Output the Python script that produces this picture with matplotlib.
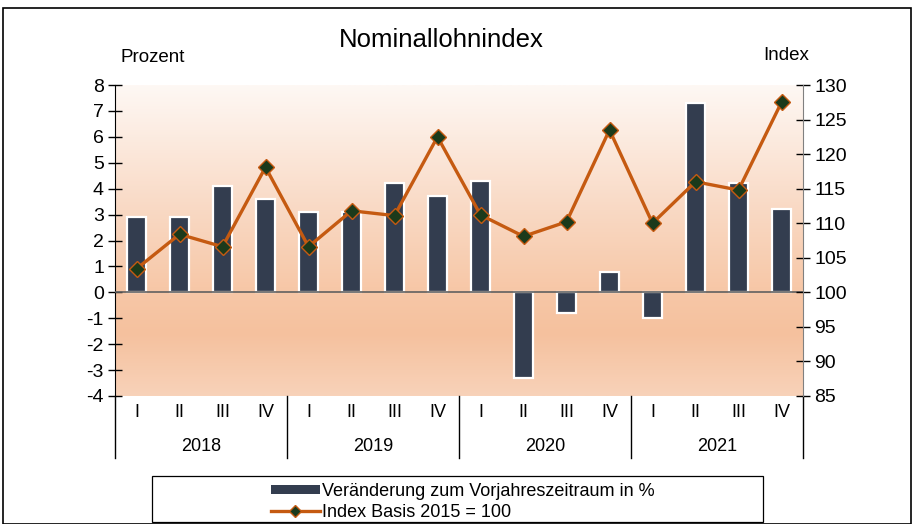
import numpy as np
import matplotlib
matplotlib.use("Agg")
import matplotlib.pyplot as plt
from matplotlib.colors import LinearSegmentedColormap
from matplotlib.lines import Line2D
from matplotlib.patches import Patch, Rectangle

plt.rcParams['font.family'] = ['Liberation Sans', 'DejaVu Sans']
plt.rcParams['axes.unicode_minus'] = False

# data
years = ["2018", "2019", "2020", "2021"]
quarters = ["I", "II", "III", "IV"]
change_pct = [2.9, 2.9, 4.1, 3.6,
              3.1, 3.1, 4.2, 3.7,
              4.3, -3.3, -0.8, 0.8,
              -1.0, 7.3, 4.2, 3.2]
index_vals = [103.4, 108.4, 106.6, 118.1,
              106.6, 111.8, 111.1, 122.5,
              111.2, 108.1, 110.2, 123.5,
              110.0, 116.0, 114.8, 127.5]

bar_color = "#333d4f"
line_color = "#c55a11"
marker_face = "#1b3a1b"

fig = plt.figure(figsize=(9.14, 5.24), dpi=100)
ax = fig.add_axes([115/914, 1-396/524, 688/914, 311/524])

n = len(change_pct)
x = np.arange(n)

# gradient background
grad = LinearSegmentedColormap.from_list("bg", [
    (0.0, "#f8d2b9"),
    (0.2, "#f5c19e"),
    (0.35, "#f7c8a8"),
    (0.6, "#f9d9c4"),
    (1.0, "#fef8f4"),
])
ax.imshow(np.linspace(0, 1, 256).reshape(-1, 1), cmap=grad, aspect="auto",
          extent=[-0.5, n-0.5, -4, 8], origin="lower", zorder=0)

ax.bar(x, change_pct, width=0.45, color=bar_color, edgecolor="white",
       linewidth=1.6, zorder=2)
ax.axhline(0, color="#606060", lw=1.2, zorder=3)

ax.set_xlim(-0.5, n-0.5)
ax.set_ylim(-4, 8)
ax.set_yticks(range(-4, 9))
ax.tick_params(axis="y", direction="inout", length=10, width=1,
               labelsize=14, pad=3)
ax.set_xticks([])
for s in ["top", "right", "bottom"]:
    ax.spines[s].set_visible(False)
ax.spines["left"].set_color("black")

ax2 = ax.twinx()
ax2.plot(x, index_vals, color=line_color, lw=2.4, marker="D", ms=8,
         mfc=marker_face, mec=line_color, mew=1, zorder=5)
ax2.set_ylim(85, 130)
ax2.set_yticks(range(85, 131, 5))
ax2.tick_params(axis="y", direction="inout", length=10, width=1,
                labelsize=14, pad=3, color="black")
for s in ["top", "left", "bottom"]:
    ax2.spines[s].set_visible(False)
ax2.spines["right"].set_color("#808080")
ax.set_zorder(ax2.get_zorder() - 1)
ax2.patch.set_visible(False)

# category axis: quarters and years
for i in range(n):
    ax.text(i, -4.65, quarters[i % 4], ha="center", va="center",
            fontsize=13, clip_on=False)
for j, yr in enumerate(years):
    ax.text(j*4 + 1.5, -5.95, yr, ha="center", va="center",
            fontsize=13, clip_on=False)
for k in range(len(years) + 1):
    ax.plot([k*4 - 0.5, k*4 - 0.5], [-4, -6.4], color="black", lw=1,
            clip_on=False)

fig.text(441/914, 1-40/524, "Nominallohnindex", ha="center", va="center",
         fontsize=18.5)
fig.text(121/914, 1-58/524, "Prozent", ha="left", va="center", fontsize=13.5)
fig.text(786/914, 1-56/524, "Index", ha="center", va="center", fontsize=13.5)

# legend in its own box
fig.patches.append(Rectangle((152/914, 1-522/524), 611/914, 46/524,
                             transform=fig.transFigure, fill=False,
                             edgecolor="black", lw=0.9))
handles = [Patch(facecolor=bar_color, edgecolor="none"),
           Line2D([0], [0], color=line_color, lw=2.4, marker="D", ms=6,
                  mfc=marker_face, mec=line_color)]
leg = fig.legend(handles, ["Veränderung zum Vorjahreszeitraum in %",
                           "Index Basis 2015 = 100"],
                 loc="center left", bbox_to_anchor=(262/914, 1-502/524),
                 fontsize=13, frameon=False, handlelength=2.7,
                 handleheight=0.45, handletextpad=0.15, labelspacing=0.22,
                 borderpad=0)

fig.patches.append(Rectangle((3/914, 0), 908/914, 1-8/524, transform=fig.transFigure,
                             fill=False, edgecolor="black", lw=1.2))

fig.savefig("out.png", dpi=100)
